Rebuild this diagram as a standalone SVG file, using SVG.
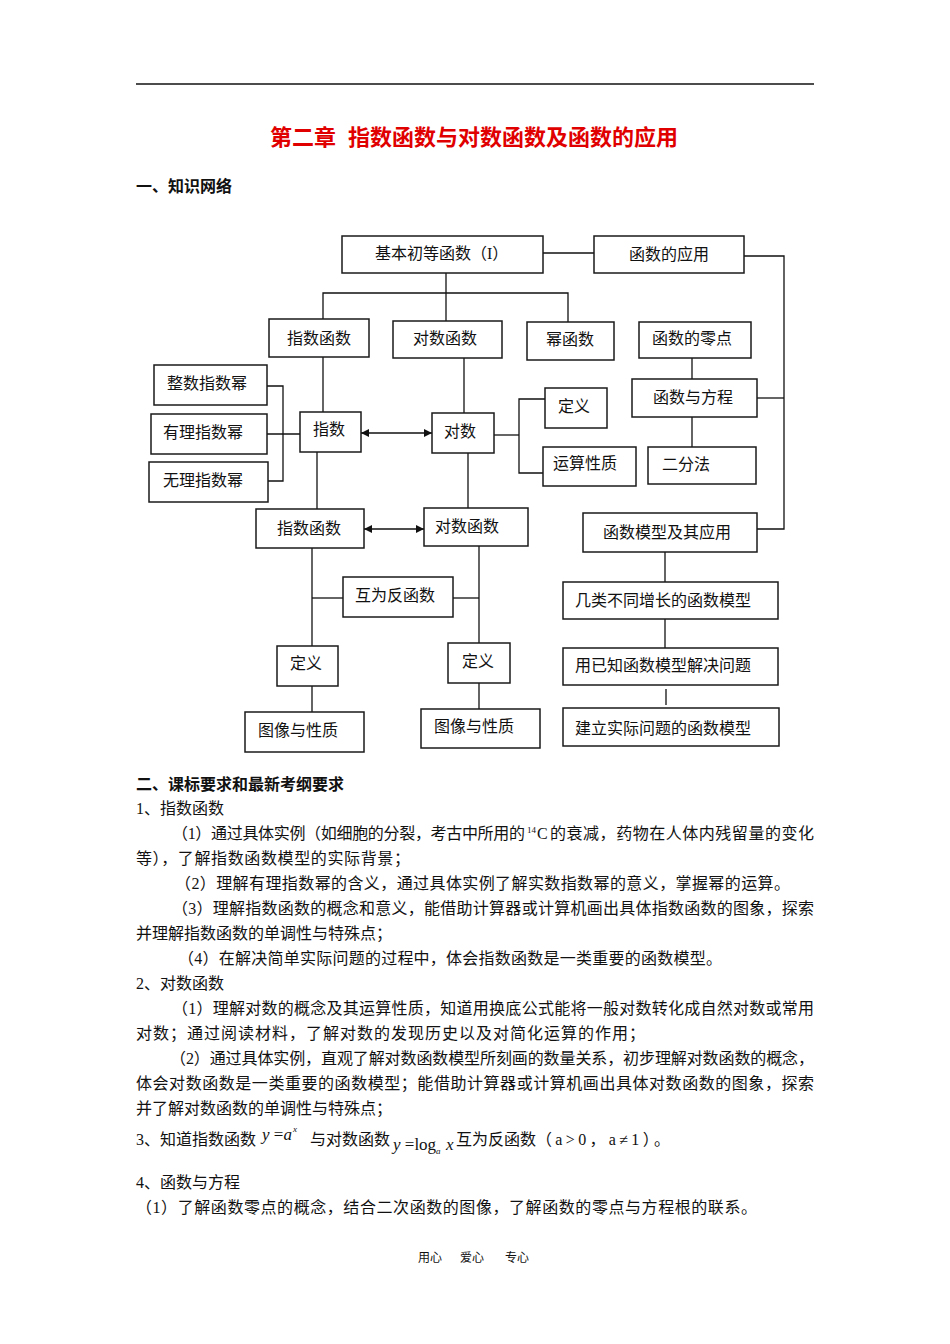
<svg xmlns="http://www.w3.org/2000/svg" width="950" height="1344" viewBox="0 0 950 1344">
<style>
.box{fill:#fff;stroke:#1a1a1a;stroke-width:1.5}
.lbl{font-family:"Liberation Serif","Noto Sans CJK SC",serif;font-size:16px;fill:#111}
.ln{stroke:#111;stroke-width:1.3;fill:none}
.tx{font-family:"Liberation Serif","Noto Sans CJK SC",serif;font-size:16px;fill:#111}
.hd{font-family:"Liberation Serif","Noto Sans CJK SC",serif;font-size:16px;font-weight:bold;fill:#111}
.title{font-family:"Liberation Serif","Noto Sans CJK SC",serif;font-size:22px;font-weight:bold;fill:#e00000}
.math{font-family:"Liberation Serif",serif;font-size:17px;fill:#111}
.sm{font-size:9px}
.ft{font-size:12px}
.it{font-style:italic}
</style>
<defs>
<marker id="ah" viewBox="0 0 10 10" refX="10" refY="5" markerWidth="9" markerHeight="8" markerUnits="userSpaceOnUse" orient="auto-start-reverse">
<path d="M0,0 L10,5 L0,10 z" fill="#111"/>
</marker>
</defs>
<rect width="950" height="1344" fill="#fff"/>
<line x1="136" y1="84" x2="814" y2="84" stroke="#111" stroke-width="1.5"/>
<text class="title" x="270" y="145">第二章</text>
<text class="title" x="348" y="145">指数函数与对数函数及函数的应用</text>
<text class="hd" x="136" y="192">一、知识网络</text>

<g id="connectors">
<path class="ln" d="M543,253 H594"/>
<path class="ln" d="M744,256 H784 V529 H757"/>
<path class="ln" d="M757,398 H784"/>
<path class="ln" d="M446,273 V321"/>
<path class="ln" d="M323,319 V293 H568 V322"/>
<path class="ln" d="M692,358 V379"/>
<path class="ln" d="M692,417 V447"/>
<path class="ln" d="M323,357 V412"/>
<path class="ln" d="M464,358 V413"/>
<path class="ln" d="M361,433 H432" marker-start="url(#ah)" marker-end="url(#ah)"/>
<path class="ln" d="M494,435 H519"/>
<path class="ln" d="M545,399 H519 V473 H543"/>
<path class="ln" d="M267,386 H283 V481 H268"/>
<path class="ln" d="M267,434 H300"/>
<path class="ln" d="M317,452 V509"/>
<path class="ln" d="M468,453 V508"/>
<path class="ln" d="M364,529 H424" marker-start="url(#ah)" marker-end="url(#ah)"/>
<path class="ln" d="M312,548 V646"/>
<path class="ln" d="M312,598 H343"/>
<path class="ln" d="M479,546 V643"/>
<path class="ln" d="M453,598 H479"/>
<path class="ln" d="M312,686 V712"/>
<path class="ln" d="M479,683 V709"/>
<path class="ln" d="M665,552 V582"/>
<path class="ln" d="M665,619 V648"/>
<path class="ln" d="M666,689 V705"/>
</g>

<g id="n_base"><rect class="box" x="342" y="236" width="201" height="37"/><text class="lbl" x="375" y="259">基本初等函数（I）</text></g>
<g id="n_app"><rect class="box" x="594" y="236" width="150" height="37"/><text class="lbl" x="629" y="260">函数的应用</text></g>
<g id="n_exp_fn"><rect class="box" x="269" y="319" width="100" height="38"/><text class="lbl" x="287" y="344">指数函数</text></g>
<g id="n_log_fn"><rect class="box" x="393" y="321" width="109" height="37"/><text class="lbl" x="413" y="344">对数函数</text></g>
<g id="n_pow_fn"><rect class="box" x="527" y="322" width="87" height="38"/><text class="lbl" x="546" y="345">幂函数</text></g>
<g id="n_zero"><rect class="box" x="639" y="322" width="112" height="36"/><text class="lbl" x="652" y="344">函数的零点</text></g>
<g id="n_eq"><rect class="box" x="632" y="379" width="125" height="38"/><text class="lbl" x="653" y="403">函数与方程</text></g>
<g id="n_bisect"><rect class="box" x="648" y="447" width="108" height="37"/><text class="lbl" x="662" y="470">二分法</text></g>
<g id="n_log_def"><rect class="box" x="545" y="388" width="62" height="40"/><text class="lbl" x="558" y="412">定义</text></g>
<g id="n_ops"><rect class="box" x="543" y="447" width="93" height="39"/><text class="lbl" x="553" y="469">运算性质</text></g>
<g id="n_log"><rect class="box" x="432" y="413" width="62" height="40"/><text class="lbl" x="444" y="437">对数</text></g>
<g id="n_exp"><rect class="box" x="300" y="412" width="61" height="40"/><text class="lbl" x="313" y="435">指数</text></g>
<g id="n_int"><rect class="box" x="154" y="365" width="113" height="40"/><text class="lbl" x="167" y="389">整数指数幂</text></g>
<g id="n_rat"><rect class="box" x="151" y="414" width="116" height="40"/><text class="lbl" x="163" y="438">有理指数幂</text></g>
<g id="n_irr"><rect class="box" x="149" y="462" width="119" height="40"/><text class="lbl" x="163" y="486">无理指数幂</text></g>
<g id="n_expf2"><rect class="box" x="256" y="509" width="108" height="39"/><text class="lbl" x="277" y="534">指数函数</text></g>
<g id="n_logf2"><rect class="box" x="424" y="508" width="104" height="38"/><text class="lbl" x="435" y="532">对数函数</text></g>
<g id="n_inv"><rect class="box" x="343" y="577" width="110" height="40"/><text class="lbl" x="355" y="601">互为反函数</text></g>
<g id="n_def_e"><rect class="box" x="277" y="646" width="61" height="40"/><text class="lbl" x="290" y="669">定义</text></g>
<g id="n_def_l"><rect class="box" x="448" y="643" width="62" height="40"/><text class="lbl" x="462" y="667">定义</text></g>
<g id="n_img_e"><rect class="box" x="245" y="712" width="119" height="40"/><text class="lbl" x="258" y="736">图像与性质</text></g>
<g id="n_img_l"><rect class="box" x="421" y="709" width="119" height="39"/><text class="lbl" x="434" y="732">图像与性质</text></g>
<g id="n_model"><rect class="box" x="583" y="513" width="174" height="39"/><text class="lbl" x="603" y="538">函数模型及其应用</text></g>
<g id="n_growth"><rect class="box" x="563" y="582" width="215" height="37"/><text class="lbl" x="575" y="606">几类不同增长的函数模型</text></g>
<g id="n_known"><rect class="box" x="563" y="648" width="215" height="37"/><text class="lbl" x="575" y="671">用已知函数模型解决问题</text></g>
<g id="n_build"><rect class="box" x="563" y="708" width="216" height="38"/><text class="lbl" x="575" y="734">建立实际问题的函数模型</text></g>

<text class="hd" x="136" y="790">二、课标要求和最新考纲要求</text>
<text class="tx" x="136" y="814">1、指数函数</text>
<text class="tx" x="172" y="839" textLength="353" lengthAdjust="spacing">（1）通过具体实例（如细胞的分裂，考古中所用的</text>
<text class="tx sm" x="527" y="833">14</text>
<text class="tx" x="537" y="839">C</text>
<text class="tx" x="550" y="839" textLength="264" lengthAdjust="spacing">的衰减，药物在人体内残留量的变化</text>
<text class="tx" x="136" y="864" textLength="274" lengthAdjust="spacing">等），了解指数函数模型的实际背景；</text>
<text class="tx" x="175" y="889" textLength="615" lengthAdjust="spacing">（2）理解有理指数幂的含义，通过具体实例了解实数指数幂的意义，掌握幂的运算。</text>
<text class="tx" x="172" y="914" textLength="642" lengthAdjust="spacing">（3）理解指数函数的概念和意义，能借助计算器或计算机画出具体指数函数的图象，探索</text>
<text class="tx" x="136" y="939">并理解指数函数的单调性与特殊点；</text>
<text class="tx" x="178" y="964" textLength="544" lengthAdjust="spacing">（4）在解决简单实际问题的过程中，体会指数函数是一类重要的函数模型。</text>
<text class="tx" x="136" y="989">2、对数函数</text>
<text class="tx" x="172" y="1014" textLength="642" lengthAdjust="spacing">（1）理解对数的概念及其运算性质，知道用换底公式能将一般对数转化成自然对数或常用</text>
<text class="tx" x="136" y="1039" textLength="509" lengthAdjust="spacing">对数；通过阅读材料，了解对数的发现历史以及对简化运算的作用；</text>
<text class="tx" x="170" y="1064" textLength="644" lengthAdjust="spacing">（2）通过具体实例，直观了解对数函数模型所刻画的数量关系，初步理解对数函数的概念，</text>
<text class="tx" x="136" y="1089" textLength="678" lengthAdjust="spacing">体会对数函数是一类重要的函数模型；能借助计算器或计算机画出具体对数函数的图象，探索</text>
<text class="tx" x="136" y="1114">并了解对数函数的单调性与特殊点；</text>
<text class="tx" x="136" y="1145">3、知道指数函数</text>
<text class="math" x="262" y="1140"><tspan class="it">y</tspan> =<tspan class="it">a</tspan></text>
<text class="math it sm" x="293" y="1132">x</text>
<text class="tx" x="310" y="1145">与对数函数</text>
<text class="math" x="393" y="1150"><tspan class="it">y</tspan> =log</text>
<text class="math it sm" x="436" y="1154">a</text>
<text class="math it" x="446" y="1150">x</text>
<text class="tx" x="456" y="1145">互为反函数</text>
<text class="tx" x="536" y="1145" textLength="134" lengthAdjust="spacing">（a&gt;0，a≠1）。</text>
<text class="tx" x="136" y="1188">4、函数与方程</text>
<text class="tx" x="136" y="1213" textLength="621" lengthAdjust="spacing">（1）了解函数零点的概念，结合二次函数的图像，了解函数的零点与方程根的联系。</text>
<text class="tx ft" x="418" y="1262">用心</text>
<text class="tx ft" x="460" y="1262">爱心</text>
<text class="tx ft" x="505" y="1262">专心</text>
</svg>
